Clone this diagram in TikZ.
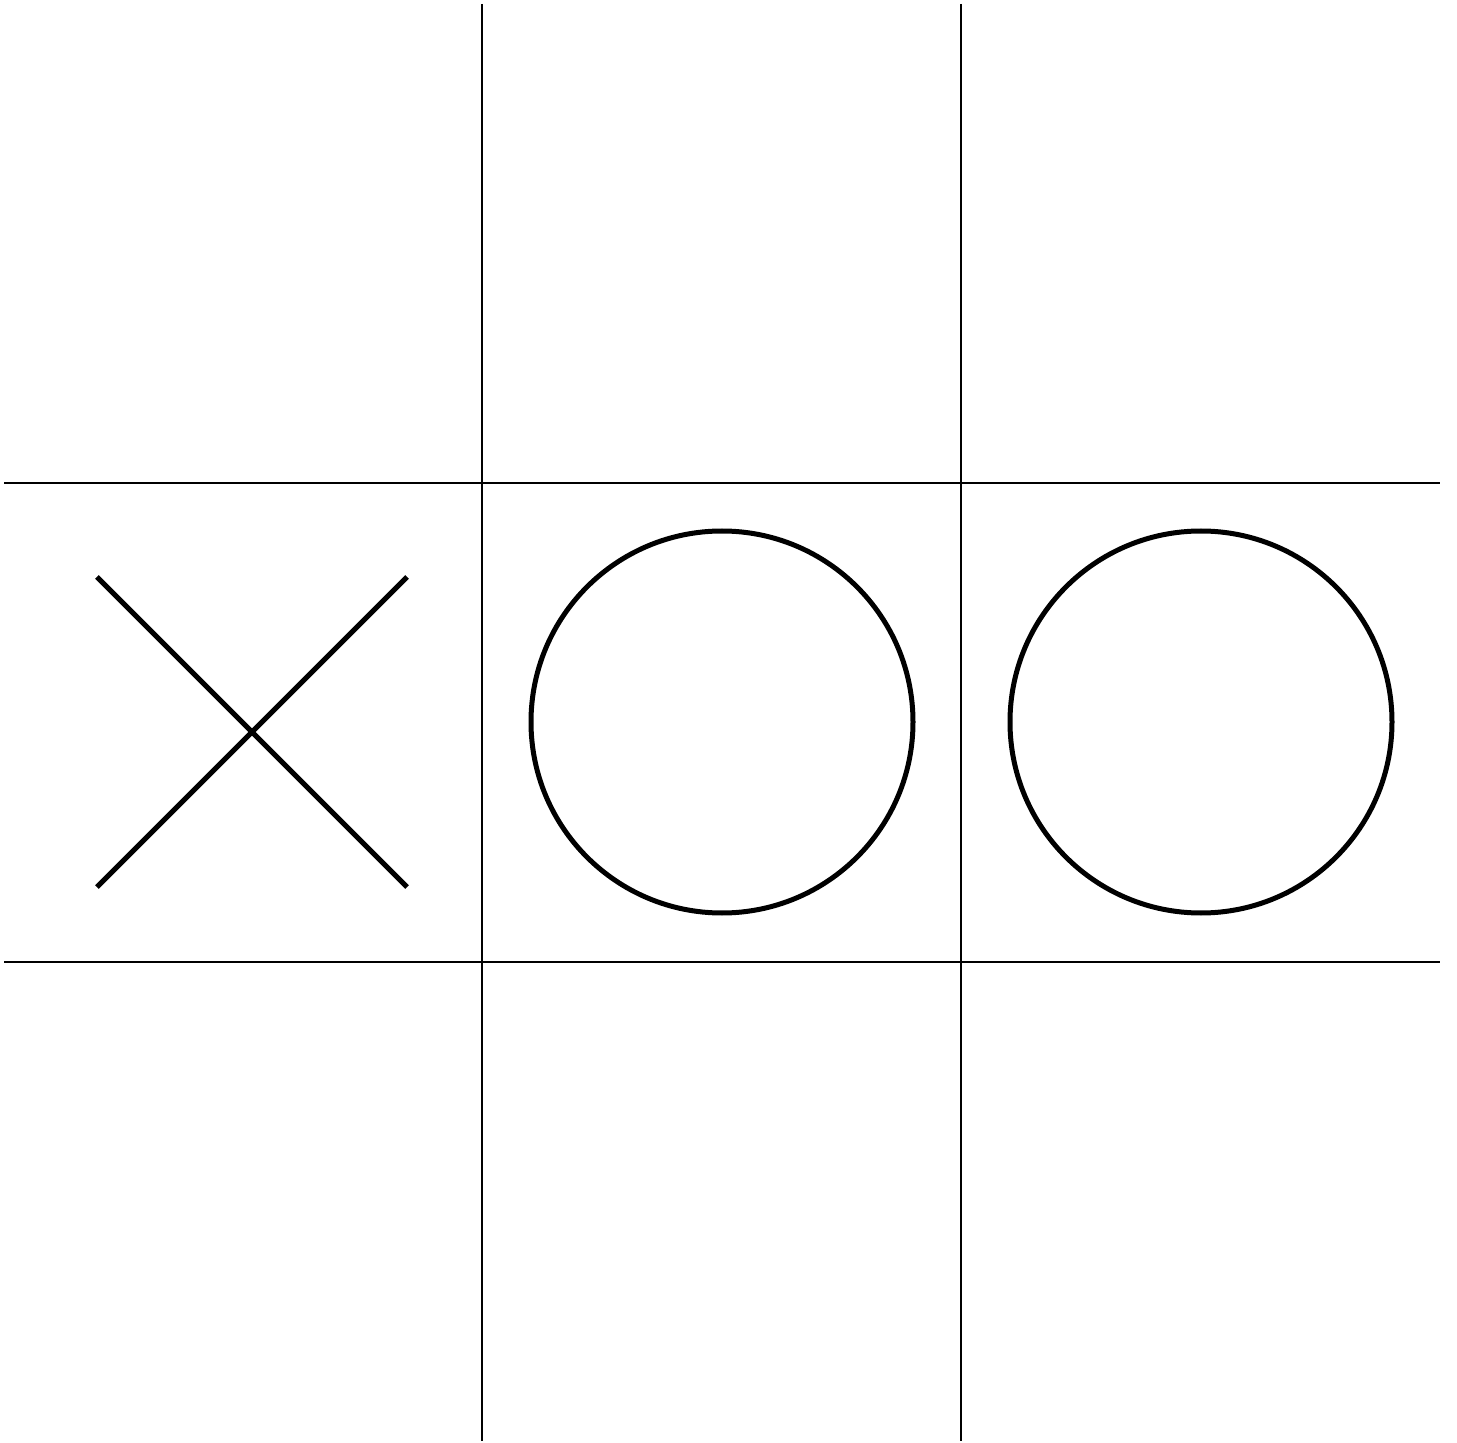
\documentclass[tikz,border=0pt]{standalone}
\begin{document}
\begin{tikzpicture}[x=0.5pt,y=-0.5pt,
  gridline/.style={line width=0.65pt,black},
  thickmark/.style={line width=2.5pt,black},
  ]
\path[use as bounding box] (0,0) rectangle (1457,1443);
\fill[white] (0,0) rectangle (1457,1443);
% grid
\coordinate (v1t) at (482,4); \coordinate (v1b) at (482,1441);
\coordinate (v2t) at (961,4); \coordinate (v2b) at (961,1441);
\coordinate (h1l) at (4,483); \coordinate (h1r) at (1440,483);
\coordinate (h2l) at (4,962); \coordinate (h2r) at (1440,962);
\draw[gridline] (v1t) -- (v1b);
\draw[gridline] (v2t) -- (v2b);
\draw[gridline] (h1l) -- (h1r);
\draw[gridline] (h2l) -- (h2r);
% X
\coordinate (xa) at (97,577); \coordinate (xb) at (407,887);
\coordinate (xc) at (407,577); \coordinate (xd) at (97,887);
\draw[thickmark] (xa) -- (xb);
\draw[thickmark] (xc) -- (xd);
% O's
\draw[thickmark] (722,722) circle[radius=191];
\draw[thickmark] (1201,722) circle[radius=191];
\end{tikzpicture}
\end{document}
